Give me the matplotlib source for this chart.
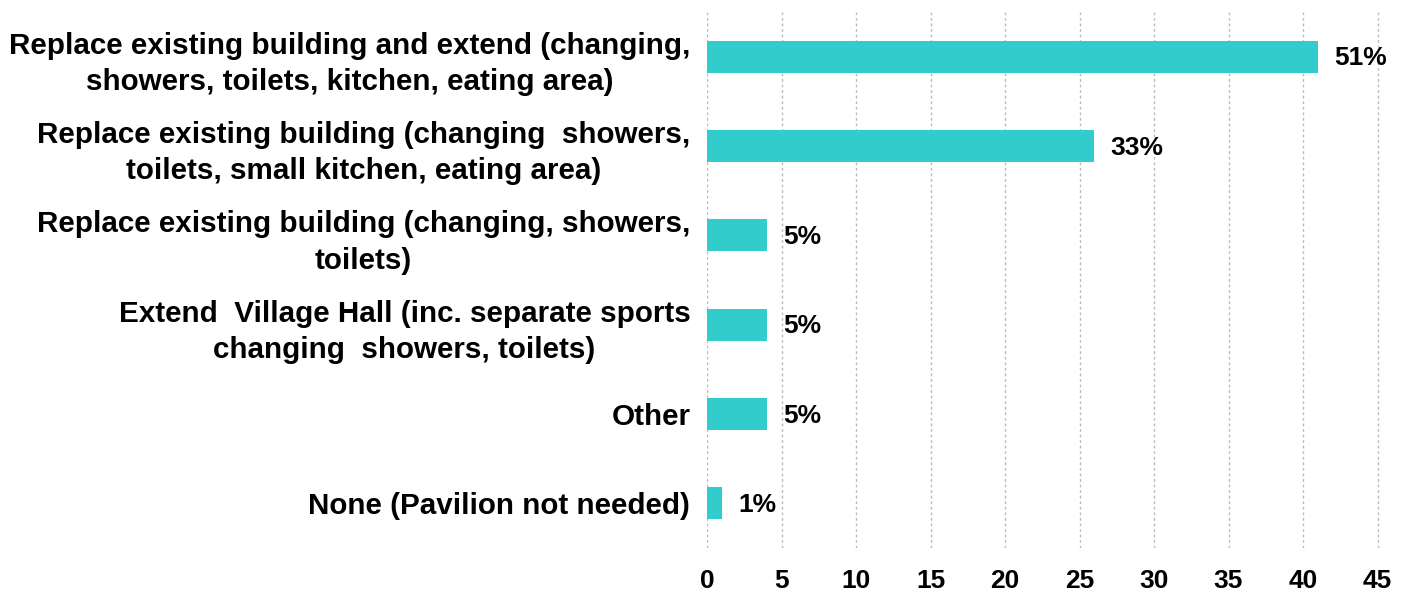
import matplotlib.pyplot as plt

plt.rcParams['font.family'] = ['Liberation Sans', 'DejaVu Sans']
plt.rcParams['font.weight'] = 'bold'

# pavilion options, counts of responses and the share each got
options = [
    'Replace existing building and extend (changing,\nshowers, toilets, kitchen, eating area)',
    'Replace existing building (changing  showers,\ntoilets, small kitchen, eating area)',
    'Replace existing building (changing, showers,\ntoilets)',
    'Extend  Village Hall (inc. separate sports\nchanging  showers, toilets)',
    'Other',
    'None (Pavilion not needed)',
]
counts = [41, 26, 4, 4, 4, 1]
shares = ['51%', '33%', '5%', '5%', '5%', '1%']
xticks = [0, 5, 10, 15, 20, 25, 30, 35, 40, 45]

fig = plt.figure(figsize=(14.08, 5.94), dpi=100)
ax = fig.add_axes([707 / 1408, 1 - 548 / 594, 675 / 1408, 536 / 594])

ypos = list(range(len(options)))
ax.barh(ypos, counts, height=0.36, color='#33CCCC', zorder=3)
for y, c, s in zip(ypos, counts, shares):
    ax.text(c + 1.1, y + 0.02, s, va='center', ha='left', fontsize=19, fontweight='bold')

ax.set_ylim(len(options) - 0.5, -0.5)
ax.set_xlim(0, 45.3)
ax.set_xticks(xticks)
ax.set_yticks(ypos)
ax.set_yticklabels(options, fontsize=21.3, fontweight='bold',
                   multialignment='center', linespacing=1.38)
ax.tick_params(axis='x', length=0, pad=15, labelsize=19)
ax.tick_params(axis='y', length=0, pad=12)
ax.grid(axis='x', color='#BBBBBB', linestyle=(0, (2, 2)), linewidth=1, zorder=0)
for sp in ax.spines.values():
    sp.set_visible(False)

fig.savefig('out.png', dpi=100)
